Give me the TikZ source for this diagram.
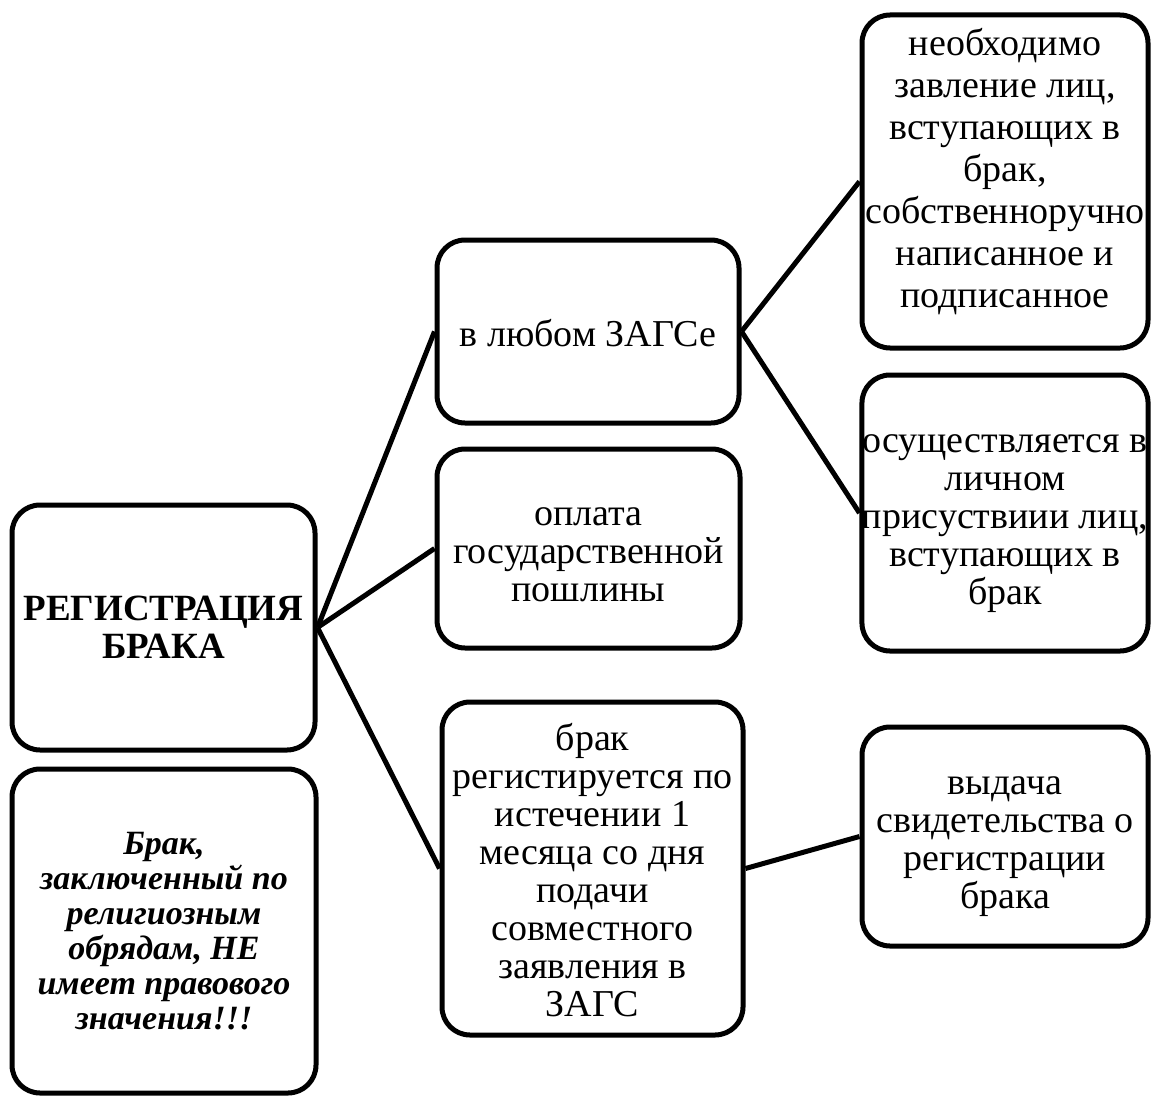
\documentclass[tikz,border=0pt]{standalone}
\usepackage{fontspec}
\setmainfont{Liberation Serif}
\usepackage{tikz}

\newcommand{\verh}{\rule{0pt}{42pt}}

\tikzset{
  blok/.style={draw, line width=5pt, rounded corners=28pt, align=center,
    inner sep=0pt, font=\fontsize{38}{38}\selectfont},
  svyaz/.style={line width=5pt},
}

\begin{document}
\begin{tikzpicture}[x=1pt, y=-1pt]
  \useasboundingbox (0,0) rectangle (1153,1097);

  % Bloki sleva
  \node[blok, minimum width=303pt, minimum height=245pt,
    font=\bfseries\fontsize{37}{38}\selectfont] (registr) at (163.5,627.5) {РЕГИСТРАЦИЯ\\БРАКА};
  \node[blok, minimum width=304pt, minimum height=324pt,
    font=\bfseries\itshape\fontsize{34}{35}\selectfont] (obryad) at (164,931)
    {Брак,\\заключенный по\\религиозным\\обрядам, НЕ\\имеет правового\\значения!!!};

  % Srednij stolbec
  \node[blok, minimum width=302pt, minimum height=183pt] (zags) at (588,331.5) {\verh в любом ЗАГСе\strut};
  \node[blok, minimum width=303pt, minimum height=199pt] (poshlina) at (588.5,548.5)
    {\verh оплата\\государственной\\пошлины\strut};
  \node[blok, minimum width=301pt, minimum height=333pt] (srok) at (592.5,868.5)
    {\verh брак\\регистируется по\\истечении 1\\месяца со дня\\подачи\\совместного\\заявления в\\ЗАГС\strut};

  % Pravyj stolbec
  \node[blok, minimum width=286pt, minimum height=333pt,
    font=\fontsize{38}{42}\selectfont] (zayavlenie) at (1005,181.5)
    {\strut необходимо\\завление лиц,\\вступающих в\\брак,\\собственноручно\\написанное и\\подписанное\rule[-30pt]{0pt}{0pt}};
  \node[blok, minimum width=286pt, minimum height=276pt] (lichno) at (1005,513)
    {\verh осуществляется в\\личном\\присуствиии лиц,\\вступающих в\\брак\strut};
  \node[blok, minimum width=286pt, minimum height=219pt] (svidetelstvo) at (1005,836.5)
    {\verh выдача\\свидетельства о\\регистрации\\брака\strut};

  % Svyazi
  \draw[svyaz] (registr.east) -- (zags.west);
  \draw[svyaz] (registr.east) -- (poshlina.west);
  \draw[svyaz] (registr.east) -- (srok.west);
  \draw[svyaz] (zags.east) -- (zayavlenie.west);
  \draw[svyaz] (zags.east) -- (lichno.west);
  \draw[svyaz] (srok.east) -- (svidetelstvo.west);
\end{tikzpicture}
\end{document}
